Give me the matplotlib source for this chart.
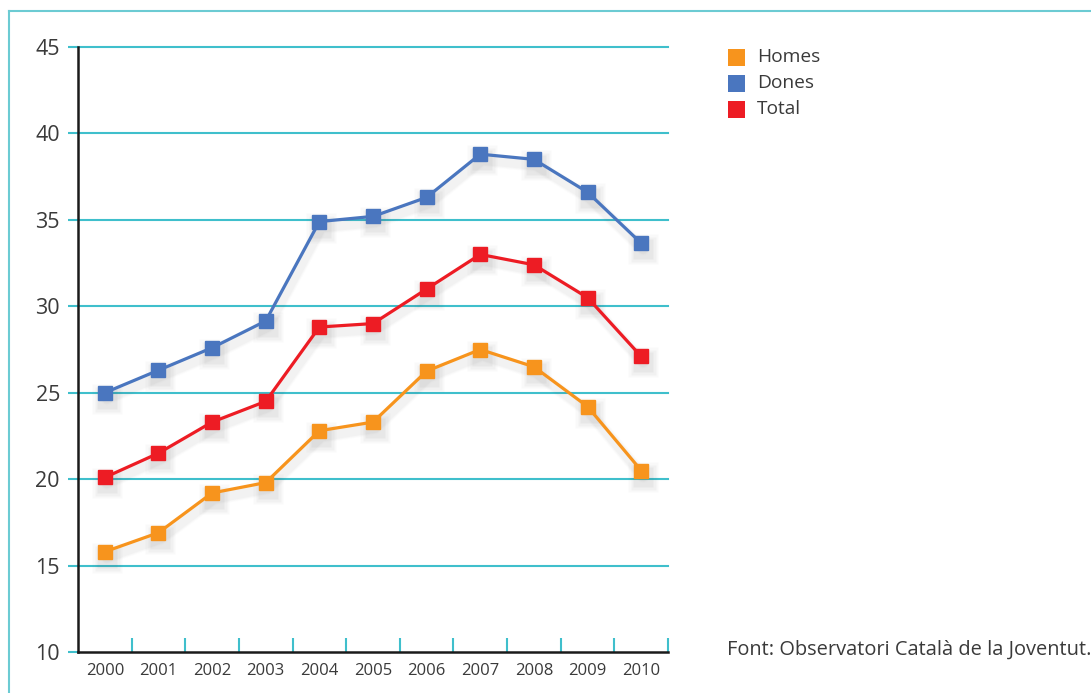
import numpy as np
import matplotlib.pyplot as plt
from matplotlib.lines import Line2D
from matplotlib.patches import Rectangle
from matplotlib.transforms import offset_copy

plt.rcParams['font.family'] = ['Open Sans', 'DejaVu Sans']

years = ["2000", "2001", "2002", "2003", "2004", "2005",
         "2006", "2007", "2008", "2009", "2010"]
homes = [15.8, 16.9, 19.2, 19.8, 22.8, 23.3, 26.25, 27.5, 26.5, 24.2, 20.5]
dones = [25.0, 26.3, 27.6, 29.15, 34.9, 35.2, 36.3, 38.8, 38.5, 36.6, 33.65]
total = [20.1, 21.5, 23.3, 24.5, 28.8, 29.0, 31.0, 33.0, 32.4, 30.5, 27.1]

series_names = ["Homes", "Dones", "Total"]
series_values = [homes, dones, total]
series_colors = ["#f7941d", "#4a76bf", "#ed1c24"]
source_text = "Font: Observatori Català de la Joventut."

teal = "#3fbfcc"
text_col = "#3a3a3a"

fig = plt.figure(figsize=(10.91, 6.93), dpi=100)
ax = fig.add_axes([78 / 1091, 41 / 693, 590 / 1091, 605 / 693])

x = np.arange(len(years))

# gridlines behind everything
for yv in range(15, 50, 5):
    ax.axhline(yv, color=teal, lw=1.5, zorder=0, clip_on=False)

# soft drop shadows under lines and markers
for vals in series_values:
    for ms, a in [(21, 0.03), (18, 0.045), (15, 0.06)]:
        tr = offset_copy(ax.transData, fig=fig, x=2, y=-6, units='dots')
        ax.plot(x, vals, color="#555555", lw=ms * 0.45, alpha=a * 0.5,
                transform=tr, zorder=1, solid_capstyle='round')
        ax.plot(x, vals, ls='none', marker='s', ms=ms, color="#555555",
                alpha=a, mec='none', transform=tr, zorder=1)

# Dones is drawn before Total so that the red line sits on top
for name, vals, col in zip(series_names, series_values, series_colors):
    ax.plot(x, vals, color=col, lw=2.3, marker='s', ms=9.5, mec=col,
            mfc=col, zorder=3, label=name)

ax.set_xlim(-0.5, 10.5)
ax.set_ylim(10, 45)
ax.set_yticks(range(10, 50, 5))
ax.tick_params(axis='y', length=7, width=1.5, color=teal, labelsize=15.5,
               labelcolor=text_col, pad=6)
ax.set_xticks(x)
ax.set_xticklabels(years)
ax.tick_params(axis='x', which='major', length=0, labelsize=12,
               labelcolor=text_col, pad=8)
ax.set_xticks(np.arange(0.5, 11, 1.0), minor=True)
ax.tick_params(axis='x', which='minor', direction='in', length=10,
               width=1.5, color=teal)

for side in ("top", "right"):
    ax.spines[side].set_visible(False)
for side in ("left", "bottom"):
    ax.spines[side].set_color("#1a1a1a")
    ax.spines[side].set_linewidth(1.8)
ax.spines["left"].set_zorder(4)

# legend drawn by hand at the right of the plot
for i, (name, col) in enumerate(zip(series_names, series_colors)):
    yc = 1 - (57 + 26 * i) / 693
    fig.add_artist(Rectangle((728 / 1091, yc - 8.5 / 693), 17 / 1091,
                             17 / 693, transform=fig.transFigure,
                             facecolor=col, edgecolor='none'))
    fig.text(757 / 1091, yc, name, fontsize=13.8, color=text_col,
             va='center', ha='left')

fig.text(727 / 1091, 1 - 650 / 693, source_text, fontsize=14.4,
         color=text_col, va='center', ha='left')

# thin frame on top and left
fig.add_artist(Line2D([9 / 1091, 1], [1 - 11 / 693, 1 - 11 / 693],
                      transform=fig.transFigure, color="#6ccbd3", lw=1.5))
fig.add_artist(Line2D([9 / 1091, 9 / 1091], [0, 1 - 11 / 693],
                      transform=fig.transFigure, color="#6ccbd3", lw=1.5))

fig.savefig("out.png", dpi=100)
